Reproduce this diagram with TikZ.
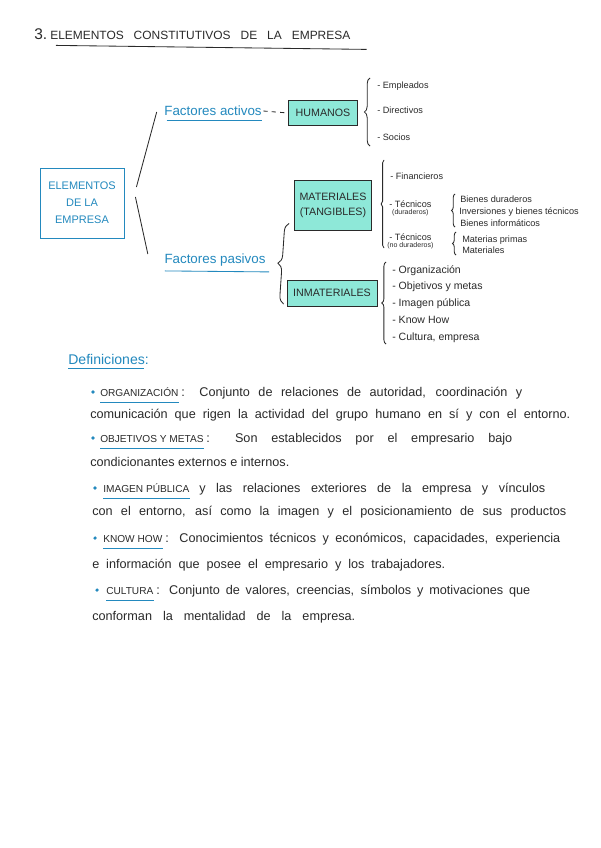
\documentclass[tikz,border=0pt]{standalone}
\usepackage{fontspec}
\setmainfont{Liberation Sans}
\usepackage{tikz}
\usetikzlibrary{positioning,calc,decorations.pathreplacing}
\definecolor{inkblue}{HTML}{2389BE}
\definecolor{inkblack}{HTML}{2A2A2A}
\definecolor{hlcyan}{HTML}{8EE8D8}
\newlength{\pxlen}
\setlength{\pxlen}{0.025cm}
\tikzstyle{mainbox} = [rectangle, draw=inkblue, semithick, text=inkblue, align=center,
    font=\fontsize{7.8}{12}\selectfont, minimum width=84\pxlen, minimum height=70\pxlen]
\tikzstyle{hlbox} = [rectangle, draw=inkblack, semithick, fill=hlcyan, text=inkblack,
    align=center, font=\fontsize{7.6}{10.5}\selectfont, inner sep=1pt]
\tikzstyle{factor} = [text=inkblue, font=\fontsize{9.5}{11}\selectfont, inner sep=1pt]
\tikzstyle{item} = [anchor=base west, text=inkblack, font=\fontsize{6.5}{8}\selectfont, inner sep=0pt]
\tikzstyle{bigitem} = [item, font=\fontsize{7.5}{8}\selectfont]
\tikzstyle{note} = [item, font=\fontsize{5}{6}\selectfont]
\tikzstyle{link} = [inkblack, semithick]
\tikzstyle{uline} = [inkblue, semithick]
\tikzstyle{bracket} = [inkblack, semithick, decorate, decoration={brace, amplitude=4pt}]
\tikzstyle{defline} = [anchor=base west, text=inkblack, font=\fontsize{9}{10}\selectfont, inner sep=0pt]
\tikzstyle{keyword} = [defline, font=\fontsize{7.2}{8}\selectfont]
\tikzstyle{dot} = [circle, fill=inkblue, inner sep=0pt, minimum size=2.5pt]

\begin{document}
\begin{tikzpicture}[x=0.025cm, y=-0.025cm]
\path[fill=white, use as bounding box] (0,0) rectangle (600,848);

% titulo
\node[anchor=base west, inner sep=0pt, text=inkblack, font=\fontsize{11}{12}\selectfont] (num) at (34,39) {3.};
\node[anchor=base west, inner sep=0pt, text=inkblack, font=\fontsize{8.5}{9}\selectfont] (title) at (50,39)
    {\makebox[300\pxlen][s]{ELEMENTOS CONSTITUTIVOS DE LA EMPRESA}};
\draw[link] ($(title.south west)+(6,6)$) -- ($(title.south east)+(16,10)$);

% esquema
\node[mainbox] (elementos) at (82,203) {ELEMENTOS\\DE LA\\EMPRESA};
\node[factor] (activos) at (213,111) {Factores activos};
\node[factor] (pasivos) at (215,260) {Factores pasivos};
\node[hlbox, minimum width=69\pxlen, minimum height=25\pxlen] (humanos) at (323,113) {HUMANOS};
\node[hlbox, minimum width=77\pxlen, minimum height=50\pxlen] (materiales) at (333,205) {MATERIALES\\(TANGIBLES)};
\node[hlbox, minimum width=90\pxlen, minimum height=26\pxlen] (inmateriales) at (332,293) {INMATERIALES};

\draw[uline] ($(activos.south west)+(4,3)$) -- ($(activos.south east)+(-1,3)$);
\draw[uline] ($(pasivos.south west)+(2,3)$) -- ($(pasivos.south east)+(2,4)$);

\draw[link] ($(elementos.east)+(12,-16)$) -- ($(activos.west)+(-6,1)$);
\draw[link] ($(elementos.east)+(11,-6)$) -- ($(pasivos.west)+(-15,-6)$);
\draw[link, dashed] (activos.east) -- (humanos.west);
\draw[bracket, decoration={brace, amplitude=6pt}] ($(inmateriales.west)+(-3,11)$) -- ($(materiales.south west)+(-5,-7)$);

% humanos
\draw[bracket] (370,146) -- (370,78);
\node[item] (empleados) at (377,88) {- Empleados};
\node[item] (directivos) at (377,113) {- Directivos};
\node[item] (socios) at (377,140) {- Socios};

% materiales
\draw[bracket, decoration={brace, amplitude=2pt}] (384,248) -- (384,160);
\node[item] (financieros) at (390,179) {- Financieros};
\node[item] (tecdur) at (389,207) {- Técnicos};
\node[note, below=1.5pt of tecdur] (durlabel) {(duraderos)};
\draw[bracket, decoration={brace, amplitude=2.5pt}] (455,227) -- (455,194);
\node[item] (bienesdur) at (460,202) {Bienes duraderos};
\node[item] (inversiones) at (459,214) {Inversiones y bienes técnicos};
\node[item] (informaticos) at (460,226) {Bienes informáticos};
\node[item] (tecnodur) at (389,240) {- Técnicos};
\node[note, below=1.5pt of tecnodur] (nodurlabel) {(no duraderos)};
\draw[bracket, decoration={brace, amplitude=2.5pt}] (456,255) -- (456,232);
\node[item] (materias) at (462,242) {Materias primas};
\node[item] (materialesit) at (462,253) {Materiales};

% inmateriales
\draw[bracket, decoration={brace, amplitude=3pt}] (386,344) -- (386,262);
\node[bigitem] (organizacion) at (392,273) {- Organización};
\node[bigitem] (objetivos) at (392,289) {- Objetivos y metas};
\node[bigitem] (imagen) at (392,306) {- Imagen pública};
\node[bigitem] (knowhow) at (392,323) {- Know How};
\node[bigitem] (cultura) at (392,340) {- Cultura, empresa};

% definiciones
\node[anchor=base west, inner sep=0pt, text=inkblue, font=\fontsize{10}{12}\selectfont] (definiciones) at (68,364) {Definiciones:};
\draw[uline, thin] ($(definiciones.south west)+(0,4)$) -- ($(definiciones.south east)+(-5,4)$);

\node[dot] (b1) at (93,392) {};
\node[keyword] (kw1) at (100,396) {ORGANIZACIÓN};
\node[defline] (d1) at (181,396) {\makebox[341\pxlen][s]{: Conjunto de relaciones de autoridad, coordinación y}};
\node[defline] (d1b) at (90,418) {\makebox[480\pxlen][s]{comunicación que rigen la actividad del grupo humano en sí y con el entorno.}};

\node[dot] (b2) at (93,438) {};
\node[keyword] (kw2) at (100,442) {OBJETIVOS Y METAS};
\node[defline] (d2) at (206,442) {\makebox[306\pxlen][s]{: Son establecidos por el empresario bajo}};
\node[defline] (d2b) at (90,466) {condicionantes externos e internos.};

\node[dot] (b3) at (95,488) {};
\node[keyword] (kw3) at (103,492) {IMAGEN PÚBLICA};
\node[defline] (d3) at (199,492) {\makebox[346\pxlen][s]{y las relaciones exteriores de la empresa y vínculos}};
\node[defline] (d3b) at (92,515) {\makebox[474\pxlen][s]{con el entorno, así como la imagen y el posicionamiento de sus productos}};

\node[dot] (b4) at (95,538) {};
\node[keyword] (kw4) at (103,542) {KNOW HOW};
\node[defline] (d4) at (165,542) {\makebox[395\pxlen][s]{: Conocimientos técnicos y económicos, capacidades, experiencia}};
\node[defline] (d4b) at (92,568) {\makebox[353\pxlen][s]{e información que posee el empresario y los trabajadores.}};

\node[dot] (b5) at (97,590) {};
\node[keyword] (kw5) at (106,594) {CULTURA};
\node[defline] (d5) at (156,594) {\makebox[374\pxlen][s]{: Conjunto de valores, creencias, símbolos y motivaciones que}};
\node[defline] (d5b) at (92,620) {\makebox[263\pxlen][s]{conforman la mentalidad de la empresa.}};

\foreach \k in {kw1,kw2,kw3,kw4,kw5}
  \draw[uline] ($(\k.south west)+(0,6)$) -- ($(\k.south east)+(0,6)$);
\end{tikzpicture}
\end{document}
